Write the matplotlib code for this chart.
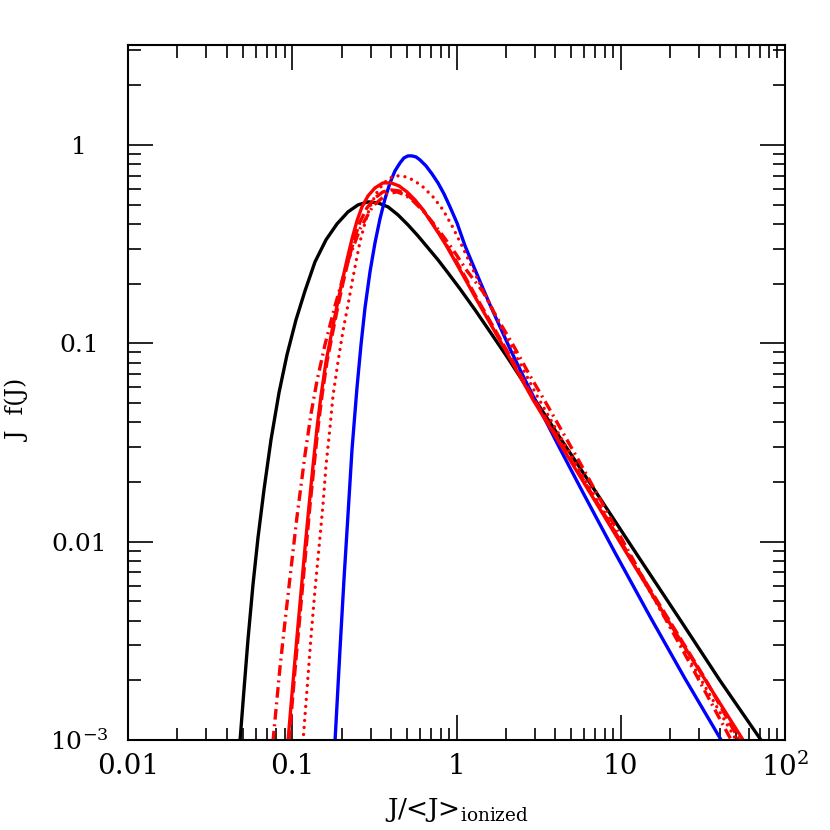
import matplotlib
matplotlib.use("Agg")
import matplotlib.pyplot as plt
from matplotlib.ticker import FixedLocator, LogLocator, NullFormatter

# ---- data (J / <J>_ionized , J f(J)) ----
black_J = [0.04806, 0.05085, 0.05377, 0.05768, 0.06187, 0.06730, 0.07425, 0.08305, 0.09290, 0.1054,
           0.1196, 0.1376, 0.1605, 0.1873, 0.2185, 0.2514, 0.2892, 0.3327, 0.3828, 0.4403,
           0.5064, 0.5828, 0.6705, 0.7715, 0.8875, 1.050, 1.296, 1.600, 2.030, 2.923,
           4.267, 7.168, 12.56, 22.95, 40.20, 72.44]
black_F = [0.000983, 0.001796, 0.003208, 0.006074, 0.01047, 0.01828, 0.03265, 0.05630, 0.08752, 0.1313,
           0.1838, 0.2574, 0.3322, 0.3999, 0.4597, 0.4985, 0.5163, 0.5103, 0.4872, 0.4439,
           0.3954, 0.3478, 0.3028, 0.2634, 0.2265, 0.1882, 0.1475, 0.1143, 0.08551, 0.05375,
           0.03342, 0.01745, 0.00860, 0.004046, 0.001994, 0.000983]

blue_J = [0.1821, 0.1873, 0.1953, 0.2065, 0.2185, 0.2311, 0.2478, 0.2622, 0.2773, 0.2974,
          0.3190, 0.3420, 0.3670, 0.3936, 0.4222, 0.4529, 0.4790, 0.5064, 0.5359, 0.5667,
          0.5995, 0.6521, 0.7094, 0.7715, 0.8393, 0.9128, 1.007, 1.127, 1.260, 1.410,
          1.600, 1.840, 2.117, 2.541, 3.091, 4.267, 5.891, 9.226, 15.07, 24.61, 41.35]
blue_F = [0.000983, 0.001510, 0.002857, 0.00644, 0.01368, 0.0291, 0.05967, 0.0983, 0.1510, 0.2292,
          0.3209, 0.4238, 0.5346, 0.6435, 0.7396, 0.8116, 0.8602, 0.8803, 0.8803, 0.8700,
          0.8403, 0.7838, 0.7145, 0.6435, 0.5664, 0.4872, 0.4045, 0.3099, 0.2486, 0.1994,
          0.1563, 0.1211, 0.09382, 0.06861, 0.04956, 0.02941, 0.01766, 0.0088, 0.00419, 0.00204, 0.000983]

red_J = [0.09421, 0.09826, 0.1025, 0.1069, 0.1130, 0.1196, 0.1265, 0.1338, 0.1415, 0.1496,
         0.1605, 0.1746, 0.1873, 0.2009, 0.2154, 0.2311, 0.2478, 0.2658, 0.2892, 0.3190,
         0.3568, 0.3991, 0.4466, 0.4994, 0.5588, 0.6252, 0.6995, 0.7822, 0.8753, 0.9931,
         1.127, 1.296, 1.533, 2.030, 2.923, 4.267, 6.779, 11.38, 19.94, 32.59, 56.29]
red_F = [0.000983, 0.001492, 0.002240, 0.003322, 0.005535, 0.009328, 0.01518, 0.02415, 0.03752, 0.05437,
         0.08068, 0.1156, 0.1545, 0.2041, 0.2634, 0.3361, 0.4141, 0.4872, 0.5534, 0.6071,
         0.6435, 0.6435, 0.6216, 0.5797, 0.5284, 0.4706, 0.4094, 0.3560, 0.3063, 0.2544,
         0.2113, 0.1715, 0.1344, 0.08955, 0.05193, 0.03117, 0.01666, 0.008211, 0.003862, 0.002017, 0.000983]

dashed_J = [0.0955, 0.1039, 0.1147, 0.1282, 0.1435, 0.1518, 0.1627, 0.1771, 0.1899, 0.2037,
            0.2185, 0.2377, 0.2585, 0.2851, 0.3190, 0.3568, 0.3991, 0.4466, 0.4994, 0.5588,
            0.6252, 0.6995, 0.7822, 0.8753, 0.9931, 1.127, 1.296, 1.533, 2.030, 2.923,
            4.267, 6.779, 11.38, 19.94, 32.59, 53.21]
dashed_F = [0.000983, 0.00224, 0.005535, 0.01518, 0.03752, 0.05437, 0.08068, 0.1156, 0.1545, 0.2017,
            0.2574, 0.3322, 0.4094, 0.4816, 0.5408, 0.5797, 0.5930, 0.5865, 0.5599, 0.5223,
            0.4706, 0.4141, 0.3602, 0.3099, 0.2603, 0.2163, 0.1755, 0.1376, 0.09167, 0.05313,
            0.03190, 0.01705, 0.008403, 0.003954, 0.00204, 0.000983]

dotted_J = [0.1163, 0.1230, 0.1301, 0.1376, 0.1455, 0.1539, 0.1605, 0.1697, 0.1771, 0.1899,
            0.2037, 0.2185, 0.2311, 0.2444, 0.2585, 0.2773, 0.2974, 0.3236, 0.3568, 0.3936,
            0.4282, 0.4658, 0.5137, 0.5667, 0.6252, 0.7195, 0.8276, 0.9389, 1.080, 1.278,
            1.533, 1.840, 2.208, 3.091, 6.779, 16.16, 51.03]
dotted_F = [0.000983, 0.001796, 0.003322, 0.005731, 0.009328, 0.01536, 0.02415, 0.03752, 0.05437, 0.08068,
            0.1156, 0.1563, 0.2017, 0.2574, 0.3246, 0.4045, 0.4872, 0.5664, 0.6360, 0.6820,
            0.6981, 0.6981, 0.6820, 0.6510, 0.6140, 0.5471, 0.4706, 0.3907, 0.3099, 0.2292,
            0.1695, 0.1239, 0.09275, 0.05437, 0.01745, 0.005043, 0.000983]

dashdot_J = [0.07632, 0.07962, 0.08420, 0.09035, 0.09689, 0.1069, 0.1196, 0.1301, 0.1415, 0.1582,
             0.1821, 0.2154, 0.2585, 0.3101, 0.3775, 0.4342, 0.4858, 0.5435, 0.6252, 0.7195,
             0.8276, 0.9521, 1.159, 1.450, 1.765, 2.208, 2.802, 3.556, 5.648, 9.895,
             16.16, 26.40, 47.56]
dashdot_F = [0.000983, 0.001425, 0.002318, 0.003954, 0.006587, 0.01336, 0.02743, 0.04413, 0.06474, 0.0983,
             0.1545, 0.2515, 0.3774, 0.4929, 0.5664, 0.5797, 0.5599, 0.5223, 0.4652, 0.4045,
             0.3478, 0.2963, 0.2318, 0.1817, 0.1344, 0.0983, 0.06861, 0.04900, 0.02500, 0.01072,
             0.005100, 0.002429, 0.000983]

x_ticks = [0.01, 0.1, 1, 10, 100]
x_ticklabels = ["0.01", "0.1", "1", "10", r"$\mathregular{10^{2}}$"]
y_ticks = [0.001, 0.01, 0.1, 1]
y_ticklabels = [r"$\mathregular{10^{-3}}$", "0.01", "0.1", "1"]

plt.rcParams["font.family"] = ["DejaVu Serif"]
plt.rcParams["mathtext.fontset"] = "dejavuserif"

fig = plt.figure(figsize=(8.3, 8.3), dpi=100)
ax = fig.add_axes([0.1542, 0.1084, 0.7916, 0.8374])

lw = 2.4
ax.plot(black_J, black_F, color="black", lw=lw, solid_joinstyle="round")
ax.plot(blue_J, blue_F, color="#0000ff", lw=lw, solid_joinstyle="round")
ax.plot(red_J, red_F, color="#ff0000", lw=lw, solid_joinstyle="round")
ax.plot(dashed_J, dashed_F, color="#ff0000", lw=lw, ls=(0, (3.5, 1.4)))
ax.plot(dotted_J, dotted_F, color="#ff0000", lw=lw, ls=(0, (0.01, 2.1)), dash_capstyle="round")
ax.plot(dashdot_J, dashdot_F, color="#ff0000", lw=lw, ls=(0, (3.2, 1.4, 0.6, 1.4)))

ax.set_xscale("log")
ax.set_yscale("log")
ax.set_xlim(0.01, 100)
ax.set_ylim(0.001, 3.19)

ax.xaxis.set_major_locator(FixedLocator(x_ticks))
ax.set_xticklabels(x_ticklabels)
ax.yaxis.set_major_locator(FixedLocator(y_ticks))
ax.set_yticklabels(y_ticklabels)
ax.xaxis.set_minor_locator(LogLocator(base=10, subs=range(2, 10)))
ax.yaxis.set_minor_locator(LogLocator(base=10, subs=range(2, 10)))
ax.xaxis.set_minor_formatter(NullFormatter())
ax.yaxis.set_minor_formatter(NullFormatter())

ax.tick_params(which="both", direction="in", top=True, right=True, width=1.2, color="black")
ax.tick_params(which="major", length=18)
ax.tick_params(which="minor", length=9)
ax.tick_params(axis="x", which="major", labelsize=20, pad=9)
ax.tick_params(axis="y", which="major", labelsize=18, pad=35)
for lab in ax.get_yticklabels():
    lab.set_horizontalalignment("center")
for s in ax.spines.values():
    s.set_linewidth(1.5)

ax.set_xlabel(r"J/<J>$_{\mathregular{ionized}}$", fontsize=19, labelpad=10)
ax.set_ylabel("J  f(J)", fontsize=17)
ax.yaxis.set_label_coords(-0.149, 0.475)

fig.savefig("out.png", dpi=100)
